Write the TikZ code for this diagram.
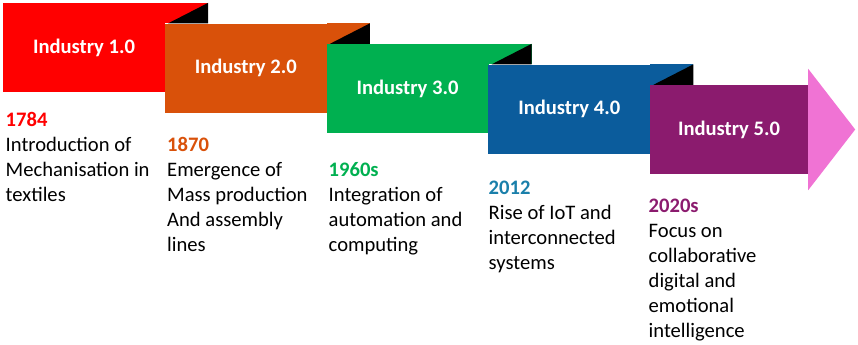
\documentclass[tikz,border=0pt]{standalone}
\usepackage{fontspec}
\setmainfont{Carlito}
\usetikzlibrary{positioning}
\definecolor{indred}{HTML}{FF0000}
\definecolor{indorange}{HTML}{D9510A}
\definecolor{indgreen}{HTML}{00B050}
\definecolor{indblue}{HTML}{0B5C9C}
\definecolor{indteal}{HTML}{1A7FAA}
\definecolor{indpurple}{HTML}{8B1B6E}
\definecolor{indpink}{HTML}{F073D4}

\begin{document}
\begin{tikzpicture}[
    x=1bp, y=-1bp,
    every node/.style={font=\fontsize{20.6bp}{25bp}\selectfont},
    stage/.style={rectangle, minimum width=162bp, minimum height=89bp, inner sep=0pt,
      text=white, font=\fontsize{20.6bp}{25bp}\selectfont\bfseries},
    note/.style={anchor=base west, align=left, inner sep=0pt},
    fold/.style={fill=black},
  ]
  \useasboundingbox (0,0) rectangle (858,344);

  % ribbon stages
  \node[stage, fill=indred] (i1) at (84,47.5) {Industry 1.0};
  \fill[indred] (i1.north east) rectangle ++(43,20.5);
  \fill[fold] ([xshift=3bp, yshift=-20.5bp]i1.north east) -- ++(40,-20.5) -- ++(0,20.5) -- cycle;

  \node[stage, fill=indorange] (i2) at (245.75,68) {Industry 2.0};
  \fill[indorange] (i2.north east) rectangle ++(43,20.5);
  \fill[fold] ([xshift=3bp, yshift=-20.5bp]i2.north east) -- ++(40,-20.5) -- ++(0,20.5) -- cycle;

  \node[stage, fill=indgreen] (i3) at (407.5,88.5) {Industry 3.0};
  \fill[indgreen] (i3.north east) rectangle ++(43,20.5);
  \fill[fold] ([xshift=3bp, yshift=-20.5bp]i3.north east) -- ++(40,-20.5) -- ++(0,20.5) -- cycle;

  \node[stage, fill=indblue] (i4) at (569.25,109) {Industry 4.0};
  \fill[indblue] (i4.north east) rectangle ++(43,20.5);
  \fill[fold] ([xshift=3bp, yshift=-20.5bp]i4.north east) -- ++(40,-20.5) -- ++(0,20.5) -- cycle;

  \node[stage, fill=indpurple, minimum width=158bp] (i5) at (729,129.5) {Industry 5.0};
  \fill[indpink] ([yshift=16bp]i5.north east) -- ([xshift=47bp]i5.east)
    -- ([yshift=-16bp]i5.south east) -- cycle;

  % dates and notes (placed at the baseline of their last line)
  \node[note] (n1) at (5.5,201.5) {\textcolor{indred}{\bfseries 1784}\\
    Introduction of\\Mechanisation in\\textiles};
  \node[note] (n2) at (167,251.2) {\textcolor{indorange}{\bfseries 1870}\\
    Emergence of\\Mass production\\And assembly\\lines};
  \node[note] (n3) at (328.5,251) {\textcolor{indgreen}{\bfseries 1960s}\\
    Integration of\\automation and\\computing};
  \node[note] (n4) at (488.5,269) {\textcolor{indteal}{\bfseries 2012}\\
    Rise of IoT and\\interconnected\\systems};
  \node[note] (n5) at (648.5,337) {\textcolor{indpurple}{\bfseries 2020s}\\
    Focus on\\collaborative\\digital and\\emotional\\intelligence};
\end{tikzpicture}
\end{document}
